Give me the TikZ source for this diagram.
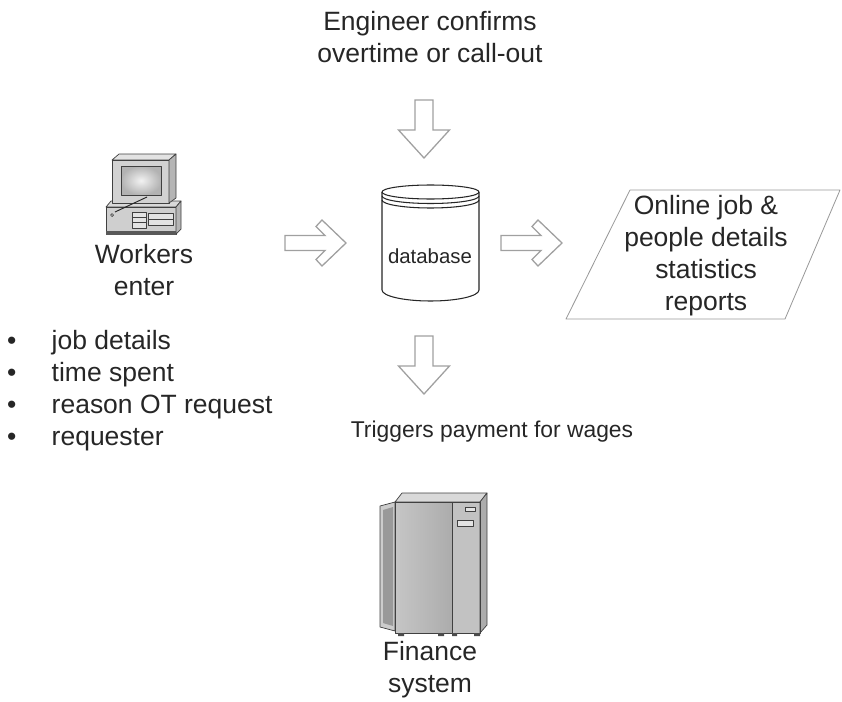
\documentclass[tikz,border=0pt]{standalone}
\usepackage{fontspec}
\setmainfont{Liberation Sans}
\usepackage{xcolor}
\usetikzlibrary{positioning, calc}

\definecolor{ink}{HTML}{262626}
\definecolor{arrowgray}{HTML}{A0A0A0}

\newcommand{\taskitem}[1]{\makebox[38pt][l]{\textbullet}#1}

\tikzset{
	blockarrow/.style={draw=arrowgray, line width=1.1pt, fill=white, line join=miter},
	pics/chevron/.style={code={
		\draw[blockarrow] (-61,7.5) -- (-21,7.5) -- (-30,16.5) -- (-24,23) -- (0,0)
			-- (-24,-23) -- (-30,-16.5) -- (-21,-7.5) -- (-61,-7.5) -- cycle;
	}},
	pics/downarrow/.style={code={
		\draw[blockarrow] (-9,58) -- (9,58) -- (9,28) -- (25.5,28) -- (0,0)
			-- (-25.5,28) -- (-9,28) -- cycle;
	}},
}

\begin{document}
\begin{tikzpicture}[x=0.03cm, y=0.03cm, line join=round]
		
		% Define styles
		\tikzstyle{label} = [text=ink, font=\fontsize{22.6}{27.3}\selectfont, align=center, inner sep=0pt]
		\tikzstyle{dbline} = [draw=ink, line width=0.9pt]
		\tikzstyle{report} = [draw=gray!80, line width=0.7pt]
		\tikzstyle{icon} = [draw=black!75, line width=0.6pt]
		
		\useasboundingbox (0,-702) rectangle (842,0);
		
		% Database cylinder
		\draw[dbline, fill=white] (382,-192) -- (382,-290) arc[start angle=180, end angle=360, x radius=48.5, y radius=11] -- (479,-192);
		\draw[dbline, fill=white] (430.5,-192) ellipse [x radius=48.5, y radius=7];
		\draw[dbline] (382,-196) arc[start angle=180, end angle=360, x radius=48.5, y radius=7.5];
		\draw[dbline] (382,-200) arc[start angle=180, end angle=360, x radius=48.5, y radius=8];
		
		% Nodes
		\node[label] (engineer) at (430,-37) {Engineer confirms\\overtime or call-out};
		\node[label, font=\fontsize{17.4}{20}\selectfont] (db) at (430,-256) {database};
		\node[label] (workers) at (144,-270) {Workers\\enter};
		\node[label, align=left, anchor=west] (tasks) at (7,-391) {\taskitem{job details}\\\taskitem{time spent}\\\taskitem{reason OT request}\\\taskitem{requester}};
		\node[label] (reports) at (706,-256) {Online job \&\\people details\\statistics\\reports};
		\node[label, font=\fontsize{19.5}{24}\selectfont] (trigger) at (492,-432) {Triggers payment for wages};
		\node[label] (finance) at (430,-670) {Finance\\system};
		
		% Report parallelogram
		\draw[report] (630,-190) -- (840,-190) -- (785,-319) -- (566,-319) -- cycle;
		
		% Arrows
		\pic at (424,-158) {downarrow};
		\pic at (346,-243) {chevron};
		\pic at (562,-243) {chevron};
		\pic at (424,-394) {downarrow};
		
		% Workstation
		\begin{scope}[icon]
			\filldraw[fill=gray!30] (106,-207) -- (111,-201) -- (181,-201) -- (176,-207) -- cycle;
			\filldraw[fill=gray!38] (106,-207) rectangle (176,-234);
			\filldraw[fill=gray!58] (176,-207) -- (181,-201) -- (181,-229) -- (176,-234) -- cycle;
			\fill[black!65] (106,-231) rectangle (176,-235);
			\filldraw[fill=gray!22] (132,-212) rectangle (146,-228);
			\draw (132,-217) -- (146,-217) (132,-222) -- (146,-222);
			\filldraw[fill=gray!22] (148,-213) rectangle (173,-225);
			\draw (148,-219) -- (173,-219);
			\filldraw[fill=gray!22] (112,-160) -- (119,-154) -- (176,-154) -- (169,-160) -- cycle;
			\filldraw[fill=gray!35] (112,-160) rectangle (169,-203);
			\filldraw[fill=gray!58] (169,-160) -- (176,-154) -- (176,-198) -- (169,-203) -- cycle;
			\shade[inner color=gray!10, outer color=gray!60] (121,-166) rectangle (161,-195);
			\draw (121,-166) rectangle (161,-195);
			\draw[black!85, line width=0.8pt] (115,-212) -- (147,-197);
			\draw (112,-215) circle[radius=1.5];
		\end{scope}
		
		% Finance server
		\begin{scope}[icon]
			\filldraw[fill=gray!40] (380,-506) -- (395,-502) -- (395,-631) -- (380,-627) -- cycle;
			\fill[gray!80] (383,-510) -- (393,-507) -- (393,-626) -- (383,-623) -- cycle;
			\shade[left color=gray!45, right color=gray!65] (395,-502) rectangle (452,-633);
			\fill[gray!48] (452,-502) rectangle (480,-633);
			\filldraw[fill=gray!30] (395,-502) -- (402,-493) -- (487,-493) -- (480,-502) -- cycle;
			\filldraw[fill=gray!65] (480,-502) -- (487,-493) -- (487,-625) -- (480,-633) -- cycle;
			\draw (395,-502) rectangle (480,-633);
			\draw (452,-502) -- (452,-633);
			\filldraw[fill=gray!22] (465,-507) rectangle (475,-511);
			\filldraw[fill=gray!22] (457,-520) rectangle (473,-526);
			\fill[black!70] (398,-633) rectangle (404,-636) (438,-633) rectangle (444,-636)
				(452,-633) rectangle (457,-636) (474,-633) rectangle (480,-636);
		\end{scope}
		
	\end{tikzpicture}
\end{document}
